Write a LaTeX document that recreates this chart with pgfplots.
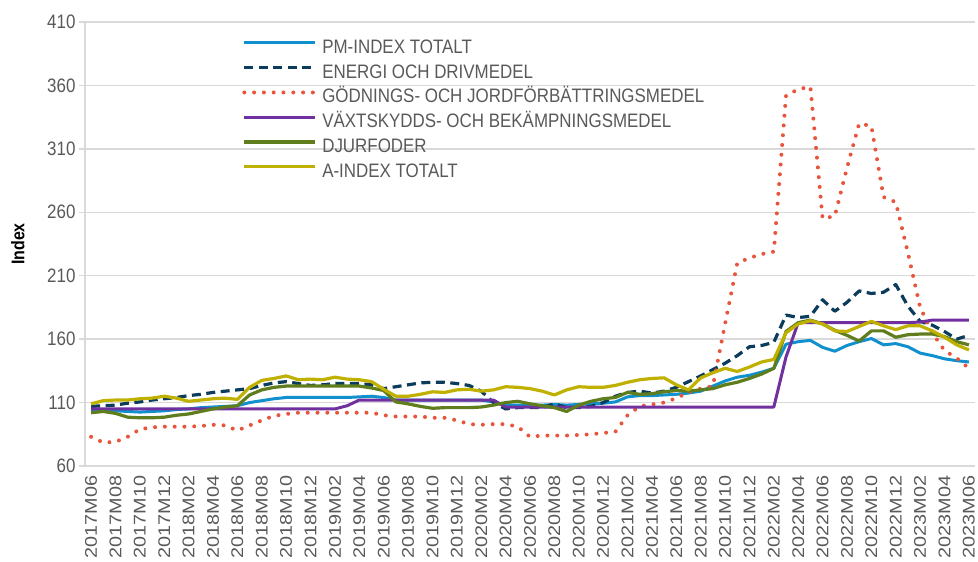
\documentclass[border=0pt]{standalone}
\usepackage{pgfplots}
\pgfplotsset{compat=1.18}
\usepackage{pgfplotstable}
\usepackage{fontspec}
\setmainfont{Liberation Sans}
\definecolor{pmblue}{RGB}{16,145,205}
\definecolor{energi}{RGB}{12,60,92}
\definecolor{fert}{RGB}{232,84,60}
\definecolor{vaxt}{RGB}{112,48,160}
\definecolor{djur}{RGB}{95,125,28}
\definecolor{aidx}{RGB}{192,176,0}
\definecolor{textgray}{RGB}{89,89,89}
\definecolor{gridgray}{RGB}{217,217,217}
\newcommand\xl[1]{\scalebox{1.17}[1]{#1}}
\newcommand\lt[1]{\scalebox{1}[1.15]{#1}}

\pgfplotstableread{
i pm en fe vx dj ai
0 104.5 107 83 105 102 109
1 104.5 107.5 78.5 105 103 111.5
2 103.5 108 79 105 101.5 112
3 103 109.5 83 105 98.5 112
4 102.5 110.5 89 105 98 113
5 103 112 90.5 105 98 113.5
6 103.5 113 91 105 98.5 115
7 104.5 114 91 105 100 113.5
8 105 115.5 91 105 101 111
9 106 116.5 91.5 105 103 112
10 106.5 118 92.5 105 105 113
11 107 119 92 105 106.5 113.5
12 107.5 120 88 105 107.5 112.5
13 110 121 92 105 116 122
14 111.5 123.5 96 105 120 127.5
15 113 125.5 99.5 105 122 129
16 114 126.5 101 105 123 131
17 114 125 102 105 123 128
18 114 123.5 102 105 123 128.5
19 114 124 102 105 123 128
20 114 125 102 105 123 130
21 114 125 102 107.5 123 128.5
22 114.5 125 102 112 123 128
23 115 124 102 112 121.5 126.5
24 114 121 100 112 119.5 120.5
25 112 122.5 99 112 110.5 115
26 112 124 99 112 109 115
27 112 125.5 99 112 107 116.5
28 112 126 98 112 105.5 118.5
29 112 126 98 112 106 118
30 112 125 96 112 106 120
31 112 123.5 93 112 106 120.5
32 112 119 92.5 112 106.5 119
33 110.5 110 93 112 108 120
34 108 105 93 106.5 110 122.5
35 108 106 91 106.5 111 122
36 107.5 106 83 106.5 109 121
37 108 106 84 106.5 107.5 119
38 108.5 109 84 106.5 106 116
39 108 106 84 106.5 103 120
40 108.5 106 84.5 106.5 108 122.5
41 109 107 85 106.5 111 122
42 109.5 110 86 106.5 113 122
43 110.5 115 87 106.5 114 123.5
44 114.5 118 100 106.5 118 126
45 115.5 119 107 106.5 116.5 128
46 115.5 117.5 108.5 106.5 117 129
47 116 119 110 106.5 118.5 129.5
48 116.5 122 113.5 106.5 119.5 124
49 117.5 126.5 118 106.5 119 120
50 119 131 121 106.5 120 129.5
51 123 136 123 106.5 121 133.5
52 127 141 172 106.5 124 137
53 130 147 220 106.5 126 134.5
54 131.5 154 224 106.5 129 138
55 134 155 227 106.5 132.5 142
56 137 157.5 229 106.5 137 144
57 156 179 352 146 166 165
58 158 177 357 173 173 172
59 159 178 359 173 175 174.5
60 153.5 191 255 173 172 172
61 150.5 182 257 173 167 166.5
62 155 189 295 173 163 166
63 158 198 330 173 158.5 170
64 160.5 196 328 173 166.5 174
65 155.5 197 272 173 166.5 170.5
66 156.5 203 268 173 161.5 167.5
67 154 186 228 173 163.5 170.5
68 149 174 185 173.5 164 170.5
69 147 171 165 175 164 166.5
70 144.5 166 151 175 162 161.5
71 143 160 145 175 158 155.5
72 142 163 137 175 155.5 151.5
}\datatable

\begin{document}
\begin{tikzpicture}
\begin{axis}[
  name=ax, at={(0,0)}, anchor=south west,
  scale only axis, width=890bp, height=444bp,
  xmin=-0.5, xmax=72.5, ymin=60, ymax=410,
  ytick={60,110,...,410},
  yticklabel={\lt{\pgfmathprintnumber[assume math mode=true]{\tick}}},
  xtick={0,2,...,72},
  xticklabels={\xl{2017M06},\xl{2017M08},\xl{2017M10},\xl{2017M12},\xl{2018M02},\xl{2018M04},\xl{2018M06},\xl{2018M08},\xl{2018M10},\xl{2018M12},\xl{2019M02},\xl{2019M04},\xl{2019M06},\xl{2019M08},\xl{2019M10},\xl{2019M12},\xl{2020M02},\xl{2020M04},\xl{2020M06},\xl{2020M08},\xl{2020M10},\xl{2020M12},\xl{2021M02},\xl{2021M04},\xl{2021M06},\xl{2021M08},\xl{2021M10},\xl{2021M12},\xl{2022M02},\xl{2022M04},\xl{2022M06},\xl{2022M08},\xl{2022M10},\xl{2022M12},\xl{2023M02},\xl{2023M04},\xl{2023M06}},
  x tick label style={rotate=90, anchor=east, font=\fontsize{17}{17}\selectfont, text=textgray},
  y tick label style={font=\fontsize{17}{17}\selectfont, text=textgray},
  axis x line=bottom, axis y line=left,
  x axis line style={-}, y axis line style={-},
  axis line style={draw=gridgray, line width=1.3bp},
  ymajorgrids, grid style={draw=gridgray, line width=1.3bp},
  xtick style={draw=none},
  ytick style={draw=gridgray, line width=1.3bp},
  tick align=outside, major tick length=6bp,
  ylabel={\lt{Index}},
  ylabel style={at={(axis description cs:-0.0755,0.5)}, anchor=center, font=\bfseries\fontsize{16}{16}\selectfont},
  legend style={at={(axis description cs:0.1765,0.958)}, anchor=north west, draw=none, fill=none,
    inner sep=0pt, font=\fontsize{17}{17}\selectfont, text=textgray, row sep=8.8bp,
    nodes={inner sep=0pt, text height=12.5bp, text depth=3.5bp},
    /tikz/every odd column/.append style={column sep=5bp}},
  legend cell align=left,
  legend image code/.code={\draw[#1] (0bp,6bp) -- (71bp,6bp);},
  every axis plot/.append style={line join=round, no markers},
]
\addplot[pmblue, line width=3bp] table[x=i, y=pm] {\datatable};
\addlegendentry{\lt{PM-INDEX TOTALT}}
\addplot[energi, line width=3.2bp, dash pattern=on 9bp off 5.5bp] table[x=i, y=en] {\datatable};
\addlegendentry{\lt{ENERGI OCH DRIVMEDEL}}
\addplot[fert, line width=4bp, line cap=round, dash pattern=on 0bp off 9.8bp] table[x=i, y=fe] {\datatable};
\addlegendentry{\lt{GÖDNINGS- OCH JORDFÖRBÄTTRINGSMEDEL}}
\addplot[vaxt, line width=3bp] table[x=i, y=vx] {\datatable};
\addlegendentry{\lt{VÄXTSKYDDS- OCH BEKÄMPNINGSMEDEL}}
\addplot[djur, line width=3.2bp] table[x=i, y=dj] {\datatable};
\addlegendentry{\lt{DJURFODER}}
\addplot[aidx, line width=3.2bp] table[x=i, y=ai] {\datatable};
\addlegendentry{\lt{A-INDEX TOTALT}}
\end{axis}
\pgfresetboundingbox
\path (ax.south west) ++(-85bp,-96bp) rectangle ++(978bp,562bp);
\end{tikzpicture}
\end{document}
